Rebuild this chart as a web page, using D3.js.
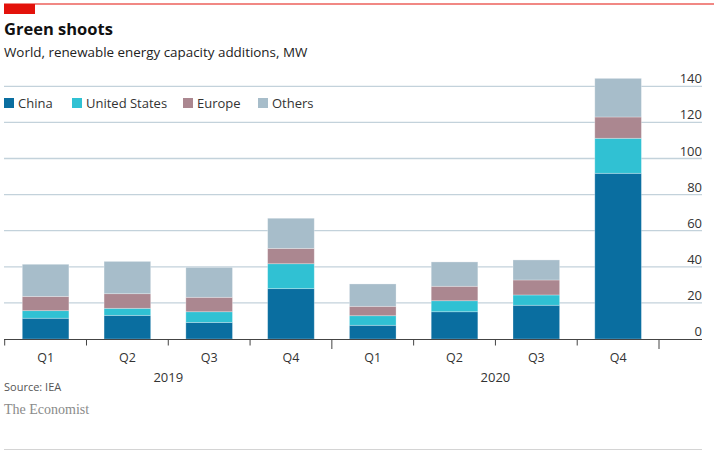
<!DOCTYPE html>
<html lang="en">
<head>
<meta charset="UTF-8" />
<script src="https://d3js.org/d3.v7.min.js"></script>
<style>
  body { margin: 0; background: #fff; }
  text { font-family: "Open Sans", sans-serif; fill: #333; }
</style>
</head>
<body>
<svg id="chart"></svg>
<script>
const quarters = ["Q1", "Q2", "Q3", "Q4", "Q1", "Q2", "Q3", "Q4"];
const years = ["2019", "2020"];
const china = [11.5, 13.1, 9.2, 27.9, 7.6, 15.1, 18.7, 91.8];
const unitedStates = [4.2, 3.9, 5.9, 13.8, 5.3, 6.1, 5.7, 19.4];
const europe = [7.9, 8.1, 8.0, 8.5, 5.2, 8.0, 8.3, 11.8];
const others = [17.8, 17.9, 16.6, 16.7, 12.4, 13.5, 11.1, 21.4];
const seriesNames = ["China", "United States", "Europe", "Others"];
const yTicks = [0, 20, 40, 60, 80, 100, 120, 140];

const colors = ["#0a6ea0", "#30c1d3", "#ab8790", "#a7bdca"];
const W = 714, H = 454;

const svg = d3.select("#chart").attr("width", W).attr("height", H);

// table for the stack
const rows = quarters.map((q, i) => ({
  key: i, "China": china[i], "United States": unitedStates[i],
  "Europe": europe[i], "Others": others[i]
}));

const x = d3.scaleBand()
  .domain(d3.range(quarters.length))
  .range([4.7, 659])
  .paddingInner(0.43)
  .paddingOuter(0.215);

const y = d3.scaleLinear().domain([0, 140]).range([339, 86.3]);

// top red rule and tag
svg.append("rect").attr("x", 4).attr("y", 3.5).attr("width", W - 4).attr("height", 1).attr("fill", "#e3120b");
svg.append("rect").attr("x", 4).attr("y", 4).attr("width", 31).attr("height", 10).attr("fill", "#e3120b");

svg.append("text").attr("x", 4).attr("y", 35)
  .style("font-size", "16.5px").style("font-weight", "bold").style("fill", "#111")
  .text("Green shoots");
svg.append("text").attr("x", 4).attr("y", 57)
  .style("font-size", "13.4px").style("fill", "#222")
  .text("World, renewable energy capacity additions, MW");

// gridlines + right labels
const grid = svg.append("g");
grid.selectAll("line").data(yTicks.filter(d => d > 0)).enter().append("line")
  .attr("x1", 4).attr("x2", 702)
  .attr("y1", d => y(d)).attr("y2", d => y(d))
  .attr("stroke", "#c3d2db").attr("stroke-width", 1.3);
grid.selectAll("text").data(yTicks).enter().append("text")
  .attr("x", 702).attr("y", d => y(d) - 3)
  .attr("text-anchor", "end")
  .style("font-size", "13px").style("fill", "#333")
  .text(d => d);

// legend
const legendX = [4, 72, 183, 258];
const lg = svg.append("g");
seriesNames.forEach((name, i) => {
  lg.append("rect").attr("x", legendX[i]).attr("y", 98).attr("width", 10).attr("height", 10).attr("fill", colors[i]);
  lg.append("text").attr("x", legendX[i] + 14).attr("y", 108)
    .style("font-size", "13px").style("fill", "#333").text(name);
});

// stacked bars
const stacked = d3.stack().keys(seriesNames)(rows);
svg.append("g").selectAll("g").data(stacked).enter().append("g")
  .attr("fill", (d, i) => colors[i])
  .selectAll("rect").data(d => d).enter().append("rect")
  .attr("x", d => x(d.data.key))
  .attr("width", x.bandwidth())
  .attr("y", d => y(d[1]))
  .attr("height", d => y(d[0]) - y(d[1]))
  .attr("stroke", "rgba(255,255,255,0.35)")
  .attr("stroke-width", 0.8);

// x axis
svg.append("line").attr("x1", 4).attr("x2", 702).attr("y1", 339.5).attr("y2", 339.5)
  .attr("stroke", "#444").attr("stroke-width", 1);
const step = x.step();
const tickXs = d3.range(quarters.length + 1).map(i => 4.7 + i * step);
svg.append("g").selectAll("line").data(tickXs).enter().append("line")
  .attr("x1", d => d).attr("x2", d => d)
  .attr("y1", 339.5)
  .attr("y2", (d, i) => (i % 4 === 0 && i > 0) ? 349 : 345.5)
  .attr("stroke", "#444").attr("stroke-width", 1);

svg.append("g").selectAll("text").data(quarters).enter().append("text")
  .attr("x", (d, i) => x(i) + x.bandwidth() / 2)
  .attr("y", 361.5)
  .attr("text-anchor", "middle")
  .style("font-size", "12.5px").style("fill", "#333")
  .text(d => d);

svg.append("g").selectAll("text").data(years).enter().append("text")
  .attr("x", (d, i) => 4.7 + (i * 4 + 2) * step)
  .attr("y", 382)
  .attr("text-anchor", "middle")
  .style("font-size", "13px").style("fill", "#333")
  .text(d => d);

svg.append("text").attr("x", 4).attr("y", 391)
  .style("font-size", "11px").style("fill", "#555").text("Source: IEA");
svg.append("text").attr("x", 4).attr("y", 413.5)
  .style("font-family", "'Liberation Serif', serif")
  .style("font-size", "14px").style("fill", "#8a8a8a").text("The Economist");

svg.append("line").attr("x1", 4).attr("x2", 702).attr("y1", 449.5).attr("y2", 449.5)
  .attr("stroke", "#d4d4d4").attr("stroke-width", 1);
</script>
</body>
</html>
